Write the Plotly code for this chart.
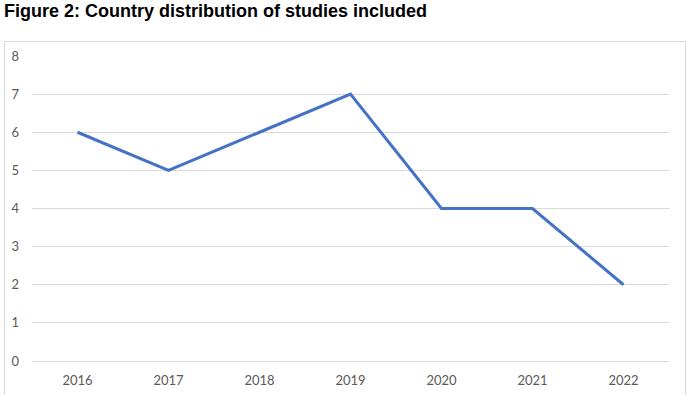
import plotly.graph_objects as go

years = ["2016", "2017", "2018", "2019", "2020", "2021", "2022"]
counts = [6, 5, 6, 7, 4, 4, 2]
title_text = "Figure 2: Country distribution of studies included"

W, H = 688, 395
L, R, T, B = 32, 19, 56, 34
pw, ph = W - L - R, H - T - B

def px_x(x):
    return (x - L) / pw

def px_y(y):
    return (H - B - y) / ph

fig = go.Figure()
fig.add_trace(go.Scatter(
    x=years, y=counts, mode="lines",
    line=dict(color="#4472C4", width=3),
    hoverinfo="x+y",
))

fig.update_layout(
    width=W, height=H,
    margin=dict(l=L, r=R, t=T, b=B, autoexpand=False),
    paper_bgcolor="white", plot_bgcolor="white",
    showlegend=False,
    font=dict(family="Lato, Open Sans, sans-serif", size=13, color="#595959"),
    xaxis=dict(type="category", range=[-0.5, 6.5], showgrid=False,
               showline=True, linecolor="#d9d9d9", linewidth=1,
               ticks="", ticklabelstandoff=7, zeroline=False, automargin=False),
    yaxis=dict(range=[0, 8], dtick=1, showgrid=True, gridcolor="#d9d9d9",
               gridwidth=1, zeroline=False, ticks="", ticklabelstandoff=12,
               showline=False, automargin=False),
    shapes=[dict(type="rect", xref="paper", yref="paper",
                 x0=px_x(4.5), x1=px_x(685.5), y0=px_y(400), y1=px_y(41.5),
                 line=dict(color="#d9d9d9", width=1), fillcolor="rgba(0,0,0,0)",
                 layer="below")],
    annotations=[dict(text="<b>" + title_text + "</b>", xref="paper", yref="paper",
                      x=px_x(2), y=px_y(-1), xanchor="left", yanchor="top",
                      showarrow=False,
                      font=dict(family="Liberation Sans, Arial, sans-serif",
                                size=18, color="#000000"))],
)

fig.write_html("out.html")
